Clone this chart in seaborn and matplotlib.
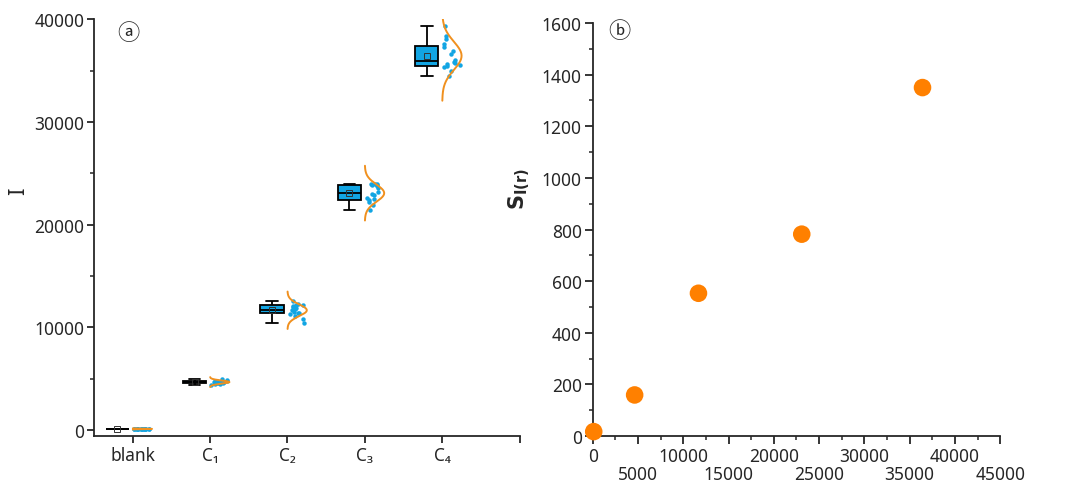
import numpy as np
import pandas as pd
import seaborn as sns
import matplotlib.pyplot as plt
from matplotlib.ticker import MultipleLocator

groups = ['blank', 'C₁', 'C₂', 'C₃', 'C₄']
I_blank = [60, 65, 70, 75, 78, 82, 85, 88, 90, 93, 96, 100, 104, 108, 115, 122]
I_c1 = [4350, 4450, 4500, 4550, 4580, 4600, 4620, 4640,
        4660, 4680, 4700, 4720, 4760, 4800, 4850, 4950]
I_c2 = [10440, 10800, 11100, 11300, 11350, 11400, 11500, 11650,
        11750, 11850, 11950, 12100, 12150, 12200, 12300, 12520]
I_c3 = [21400, 21900, 22200, 22350, 22450, 22600, 22900, 23000,
        23180, 23600, 23800, 23850, 23880, 23900, 23950, 23960]
I_c4 = [34500, 35000, 35300, 35400, 35500, 35600, 35700, 35800,
        36000, 36600, 36900, 37300, 37600, 38100, 38400, 39300]

# panel b: mean intensity vs standard deviation
I_mean = [100, 4620, 11670, 23080, 36420]
S_I = [17, 159, 553, 782, 1350]

blue = '#12A5E3'
orange = '#F0901E'
orange_dot = '#FF8000'

sns.set_style('ticks')
plt.rcParams['font.family'] = ['Noto Sans', 'DejaVu Sans']
plt.rcParams['axes.linewidth'] = 1.3

all_sets = [I_blank, I_c1, I_c2, I_c3, I_c4]
df = pd.DataFrame({
    'group': np.repeat(groups, [len(v) for v in all_sets]),
    'I': np.concatenate(all_sets),
})
df['pos'] = df['group'].map({g: i for i, g in enumerate(groups)})
df['box_x'] = df['pos'] - 0.2
df['pt_x'] = df['pos'] + 0.12

fig = plt.figure(figsize=(10.72, 4.81), dpi=100)
ax1 = fig.add_axes([0.0877, 0.0915, 0.397, 0.8665])
ax2 = fig.add_axes([0.553, 0.0915, 0.380, 0.8585])

# ---- panel a: box + points + normal curve
sns.boxplot(data=df, x='box_x', y='I', native_scale=True, orient='x', width=0.3,
            color=blue, saturation=1, linecolor='black', linewidth=1.3,
            showfliers=False, showmeans=True,
            meanprops=dict(marker='s', markerfacecolor='none', markeredgecolor='#333333',
                           markersize=4, markeredgewidth=0.7),
            ax=ax1)
np.random.seed(3)
sns.stripplot(data=df, x='pt_x', y='I', native_scale=True, orient='x', jitter=0.11,
              size=3.2, color=blue, linewidth=0, ax=ax1, zorder=3)

z = np.linspace(-3.2, 3.2, 150)
for k, vals in enumerate(all_sets):
    m, s = np.mean(vals), np.std(vals, ddof=1)
    ax1.plot(k + 0.25 * np.exp(-z ** 2 / 2), m + s * z, color=orange, lw=1.4, zorder=4)

ax1.set_xlim(-0.5, 5)
ax1.set_ylim(-600, 40000)
ax1.set_xticks(range(6))
ax1.set_xticklabels(groups + [''])
ax1.set_yticks(range(0, 40001, 10000))
ax1.yaxis.set_minor_locator(MultipleLocator(5000))
ax1.set_xlabel('')
ax1.set_ylabel('I', fontsize=16, fontweight='heavy')
ax1.yaxis.set_label_coords(-0.152, 0.59)
ax1.tick_params(which='major', length=5, width=1.3, labelsize=12.5, pad=2)
ax1.tick_params(which='minor', length=3, width=1.1)
ax1.text(0.08, 0.967, 'ⓐ', transform=ax1.transAxes, fontsize=16,
         ha='center', va='center', family=['Noto Sans CJK SC', 'DejaVu Sans'])
sns.despine(ax=ax1)

# ---- panel b: S vs mean I
sns.scatterplot(x=I_mean, y=S_I, ax=ax2, s=160, color=orange_dot, edgecolor='none',
                clip_on=False, zorder=5)
ax2.set_xlim(0, 45000)
ax2.set_ylim(0, 1600)
xt = list(range(0, 45001, 5000))
ax2.set_xticks(xt)
ax2.set_xticklabels([str(v) if i % 2 == 0 else '\n' + str(v) for i, v in enumerate(xt)],
                    linespacing=1.0)
ax2.xaxis.set_minor_locator(MultipleLocator(2500))
ax2.set_yticks(range(0, 1601, 200))
ax2.yaxis.set_minor_locator(MultipleLocator(100))
ax2.set_ylabel(r'$\mathbf{S_{I(r)}}$', fontsize=15)
ax2.yaxis.set_label_coords(-0.150, 0.60)
ax2.tick_params(which='major', length=6, width=1.3, labelsize=12.5, pad=2)
ax2.tick_params(which='minor', length=3, width=1.1)
ax2.text(0.066, 0.983, 'ⓑ', transform=ax2.transAxes, fontsize=16,
         ha='center', va='center', family=['Noto Sans CJK SC', 'DejaVu Sans'])
sns.despine(ax=ax2)

fig.savefig('out.png', dpi=100)
